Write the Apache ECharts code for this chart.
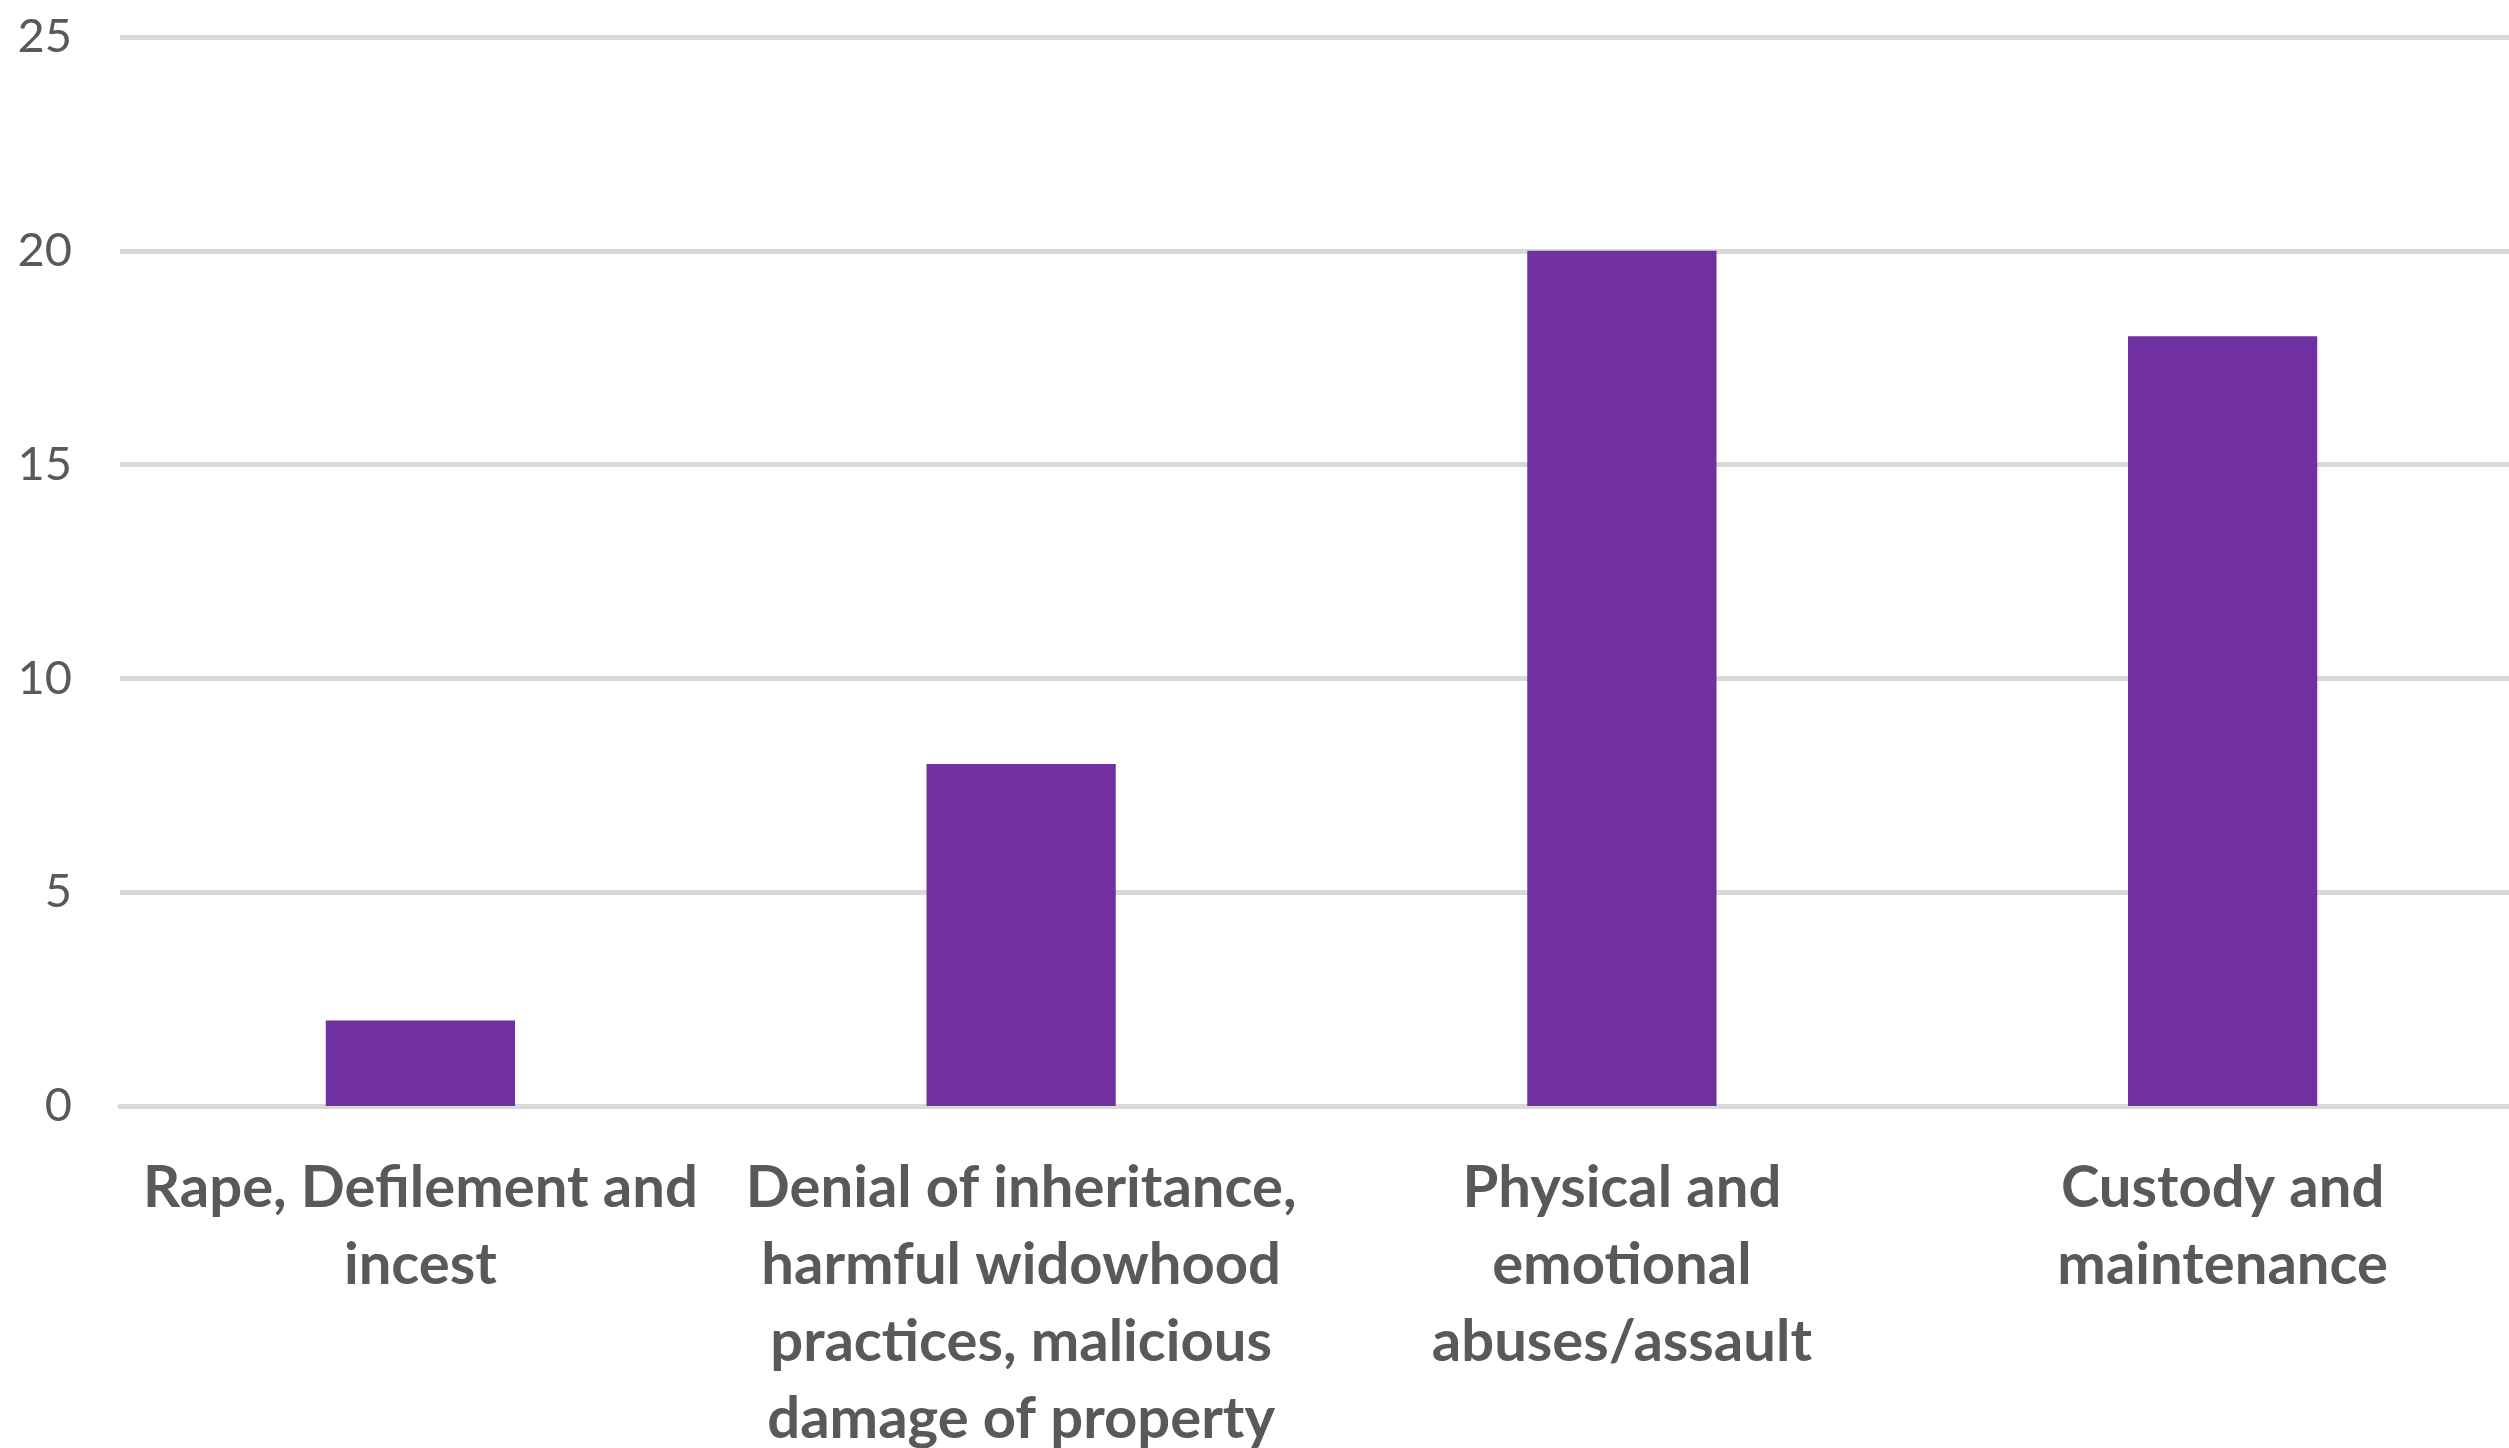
<!DOCTYPE html>
<html>
<head>
<meta charset="utf-8">
<script src="https://cdn.jsdelivr.net/npm/echarts@6/dist/echarts.min.js"></script>
<style>
html,body{margin:0;padding:0;background:#fff;}
#chart{width:2509px;height:1448px;}
</style>
</head>
<body>
<div id="chart"></div>
<script>
const categories = [
  "Rape, Defilement and\nincest",
  "Denial of inheritance,\nharmful widowhood\npractices, malicious\ndamage of property",
  "Physical and\nemotional\nabuses/assault",
  "Custody and\nmaintenance"
];
const values = [2, 8, 20, 18];
const yTicks = [0, 5, 10, 15, 20, 25];

const chart = echarts.init(document.getElementById('chart'), null, {renderer: 'canvas'});
chart.setOption({
  animation: false,
  backgroundColor: '#ffffff',
  grid: {left: 120, right: -14, top: 37, bottom: 342, containLabel: false, outerBoundsMode: 'none'},
  xAxis: {
    type: 'category',
    data: categories,
    axisLine: {show: true, lineStyle: {color: '#d9d9d9', width: 5}},
    axisTick: {show: false},
    axisLabel: {
      interval: 0,
      margin: 44,
      color: '#595959',
      fontFamily: 'Lato',
      fontWeight: 'bold',
      fontSize: 58,
      lineHeight: 77
    }
  },
  yAxis: {
    type: 'value',
    min: yTicks[0],
    max: yTicks[yTicks.length - 1],
    interval: 5,
    axisLine: {show: false},
    axisTick: {show: false},
    splitLine: {show: true, lineStyle: {color: '#d9d9d9', width: 5}},
    axisLabel: {
      margin: 48,
      color: '#595959',
      fontFamily: 'Lato',
      fontSize: 47
    }
  },
  series: [{
    type: 'bar',
    data: values,
    barWidth: '31.5%',
    itemStyle: {color: '#7030a0'}
  }]
});
</script>
</body>
</html>
